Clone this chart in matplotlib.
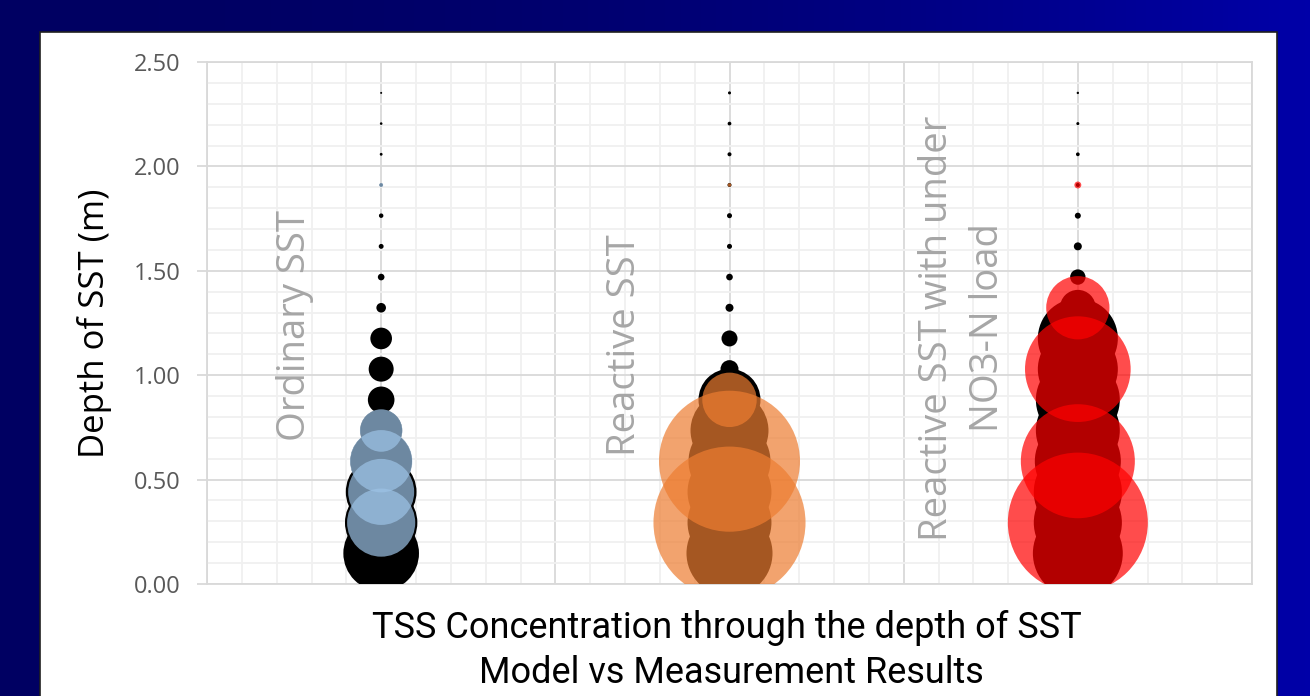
import numpy as np
import matplotlib.pyplot as plt
from matplotlib.patches import Rectangle
from matplotlib.ticker import MultipleLocator, FormatStrFormatter

# depth of the sampling points in the SST (m)
depth = [0.147, 0.294, 0.441, 0.588, 0.735, 0.882, 1.029, 1.176,
         1.323, 1.470, 1.617, 1.764, 1.911, 2.058, 2.205, 2.352]

group_names = ['Ordinary SST', 'Reactive SST', 'Reactive SST with under\nNO3-N load']
group_x = [0.5, 1.5, 2.5]

# measured TSS (black bubbles)
measured_ordinary = [143, 131, 125, 95, 44, 17.7, 15.6, 11.7,
                     2.3, 1.1, 0.6, 0.5, 0.3, 0.2, 0.17, 0.1]
measured_reactive = [185, 176, 176, 168, 152, 96, 8.1, 6.4,
                     1.6, 1.1, 0.63, 0.63, 0.4, 0.4, 0.35, 0.23]
measured_no3 = [202, 194, 194, 185, 176, 176, 160, 160,
                32, 5.9, 1.6, 0.9, 0.4, 0.35, 0.23, 0.14]

# model TSS (coloured bubbles), nan = no model value at that depth
nan = np.nan
model_ordinary = [nan, 116, 109, 97, 45, nan, nan, nan,
                  nan, nan, nan, nan, 0.4, nan, nan, nan]
model_reactive = [nan, 578, nan, 497, nan, 74, nan, nan,
                  nan, nan, nan, nan, 0.32, nan, nan, nan]
model_no3 = [nan, 490, nan, 325, nan, nan, 279, nan,
             100, nan, nan, nan, 1.2, nan, nan, nan]

model_colors = ['#9dc3e6', '#ed7d31', '#ff0000']

DPI = 100
# bubble area ~ value (Excel style): radius_px = sqrt(10 * value)
SIZE_K = 4 * (72 / DPI) ** 2 * 10

fig = plt.figure(figsize=(13.1, 6.96), dpi=DPI)

# dark blue slide background with a slight gradient
bg = fig.add_axes([0, 0, 1, 1], zorder=-10)
grad = np.linspace(0, 1, 256).reshape(1, -1)
bg_cols = np.zeros((1, 256, 3))
bg_cols[..., 2] = (0x62 + (0xa8 - 0x62) * grad ** 2) / 255
bg.imshow(bg_cols, aspect='auto', extent=[0, 1, 0, 1])
bg.set_axis_off()
bg.add_patch(Rectangle((40 / 1310, -0.01), 1237 / 1310, 1 - 32 / 696 + 0.01,
                       transform=bg.transAxes, facecolor='white',
                       edgecolor='#202020', linewidth=1.2))

ax = fig.add_axes([207 / 1310, 112 / 696, 1045 / 1310, 522 / 696])
ax.set_xlim(0, 3)
ax.set_ylim(0, 2.5)

ax.xaxis.set_major_locator(MultipleLocator(0.5))
ax.xaxis.set_minor_locator(MultipleLocator(0.1))
ax.yaxis.set_major_locator(MultipleLocator(0.5))
ax.yaxis.set_minor_locator(MultipleLocator(0.1))
ax.grid(which='major', color='#d9d9d9', linewidth=1.3)
ax.grid(which='minor', color='#f0f0f0', linewidth=1.3)
ax.set_axisbelow(True)

for side in ['top', 'right', 'left', 'bottom']:
    ax.spines[side].set_color('#d9d9d9')
    ax.spines[side].set_linewidth(1.3)

ax.tick_params(axis='x', which='both', bottom=False, labelbottom=False)
ax.tick_params(axis='y', which='major', length=7, width=1.3, color='#d9d9d9',
               pad=12, labelsize=17, labelcolor='#595959')
ax.tick_params(axis='y', which='minor', left=False)
ax.yaxis.set_major_formatter(FormatStrFormatter('%.2f'))
for lab in ax.get_yticklabels():
    lab.set_fontfamily('Open Sans')

measured = [measured_ordinary, measured_reactive, measured_no3]
model = [model_ordinary, model_reactive, model_no3]

for gx, meas, mod, col in zip(group_x, measured, model, model_colors):
    d = np.array(depth)
    m = np.array(meas, dtype=float)
    ax.scatter(np.full(len(d), gx), d, s=m * SIZE_K, color='black',
               linewidths=0, zorder=3)
    p = np.array(mod, dtype=float)
    ok = ~np.isnan(p)
    ax.scatter(np.full(ok.sum(), gx), d[ok], s=p[ok] * SIZE_K, color=col,
               alpha=0.7, linewidths=0, zorder=4)

# group captions
label_pos = [(0.253, 1.24), (1.20, 1.145), (2.17, 1.226)]
for name, (lx, ly) in zip(group_names, label_pos):
    ax.text(lx, ly, name, rotation=90, ha='center', va='center',
            multialignment='center', fontsize=27.5, color='#a6a6a6',
            family='Open Sans', linespacing=1.45, zorder=2)

fig.text(95 / 1310, 1 - 323 / 696, 'Depth of SST (m)', rotation=90,
         ha='center', va='center', fontsize=25, color='black',
         family='Open Sans')

fig.text(727 / 1310, 1 - 628 / 696, 'TSS Concentration through the depth of SST',
         ha='center', va='center', fontsize=26, color='black',
         family='Roboto')
fig.text(731 / 1310, 1 - 673 / 696, 'Model vs Measurement Results',
         ha='center', va='center', fontsize=26, color='black',
         family='Roboto')

fig.savefig('out.png', dpi=DPI)
